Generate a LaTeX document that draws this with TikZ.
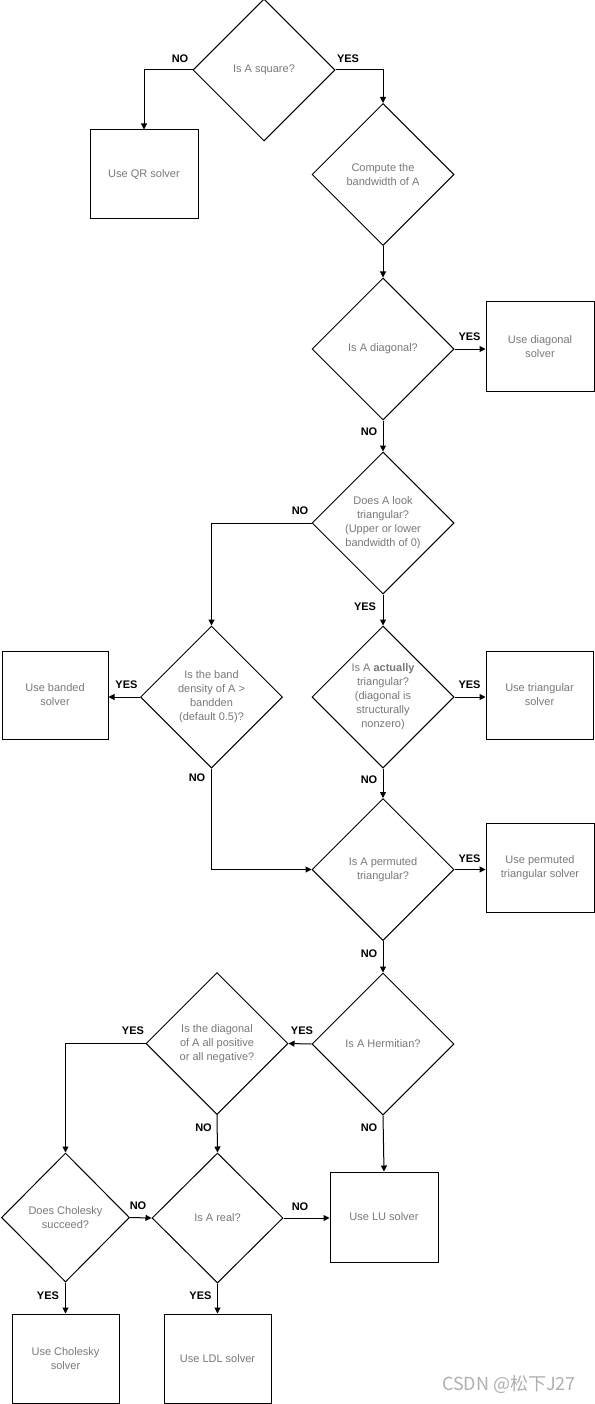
\documentclass[tikz,border=0pt]{standalone}
\usepackage{fontspec}
\setmainfont{Liberation Sans}
\newfontfamily\cjk{Noto Sans CJK SC}
\usetikzlibrary{shapes.geometric,arrows.meta}
\definecolor{txtgray}{RGB}{120,120,120}
\definecolor{wmgray}{RGB}{175,175,175}
\begin{document}
\begin{tikzpicture}[x=1pt,y=-1pt,
  dec/.style={diamond, draw, line width=1pt, minimum width=142pt, minimum height=142pt, inner sep=0pt, aspect=1, align=center, font=\fontsize{11}{14}\selectfont, text=txtgray},
  sbox/.style={rectangle, draw, line width=1pt, minimum width=108pt, minimum height=89pt, inner sep=0pt, align=center, font=\fontsize{11}{14}\selectfont, text=txtgray},
  lbl/.style={font=\fontsize{11}{13}\selectfont\bfseries, inner sep=0pt},
  arr/.style={draw, line width=1pt, -{Triangle[length=6pt,width=6pt]}},
  ln/.style={draw, line width=1pt}]
\useasboundingbox (0,0) rectangle (594,1404);
% decisions
\node[dec] (d1) at (264,70) {Is A square?};
\node[dec] (d2) at (383,174.5) {Compute the\\bandwidth of A};
\node[dec] (d3) at (383,349) {Is A diagonal?};
\node[dec] (d4) at (383,523) {Does A look\\triangular?\\(Upper or lower\\bandwidth of 0)};
\node[dec] (d5) at (211.5,697) {Is the band\\density of A >\\bandden\\(default 0.5)?};
\node[dec] (d6) at (383,697) {Is A \textbf{actually}\\triangular?\\(diagonal is\\structurally\\nonzero)};
\node[dec] (d7) at (383,869.5) {Is A permuted\\triangular?};
\node[dec] (d8) at (383,1044) {Is A Hermitian?};
\node[dec] (d9) at (217,1043.5) {Is the diagonal\\of A all positive\\or all negative?};
\node[dec, minimum width=128pt, minimum height=129pt] (d10) at (65.5,1217.5) {Does Cholesky\\succeed?};
\node[dec, minimum width=131pt, minimum height=130pt] (d11) at (217.5,1218) {Is A real?};
% boxes
\node[sbox] (qr) at (144,174.5) {Use QR solver};
\node[sbox] (diag) at (540,346.5) {Use diagonal\\solver};
\node[sbox, minimum width=106pt, minimum height=88pt] (band) at (55,695) {Use banded\\solver};
\node[sbox, minimum width=107pt, minimum height=88pt] (tri) at (539.5,695) {Use triangular\\solver};
\node[sbox] (perm) at (540,867.5) {Use permuted\\triangular solver};
\node[sbox, minimum height=90pt] (lu) at (384,1217) {Use LU solver};
\node[sbox, minimum width=107pt] (chol) at (65.5,1358.5) {Use Cholesky\\solver};
\node[sbox, minimum width=107pt] (ldl) at (217.5,1358.5) {Use LDL solver};
% connectors
\draw[arr] (d1.west) -| (qr.north);
\draw[arr] (d1.east) -| (d2.north);
\draw[arr] (d2.south) -- (d3.north);
\draw[arr] (d3.east) -- (d3.east -| diag.west);
\draw[arr] (d3.south) -- (d4.north);
\draw[arr] (d4.west) -| (d5.north);
\draw[arr] (d4.south) -- (d6.north);
\draw[arr] (d5.west) -- (d5.west -| band.east);
\draw[arr] (d6.east) -- (d6.east -| tri.west);
\draw[arr] (d5.south) |- (d7.west);
\draw[arr] (d6.south) -- (d7.north);
\draw[arr] (d7.east) -- (d7.east -| perm.west);
\draw[arr] (d7.south) -- (d8.north);
\draw[arr] (d8.west) -- (d9.east);
\draw[arr] (d9.west) -| (d10.north);
\draw[arr] (d9.south) -- (d11.north);
\draw[arr] (d8.south) -- (lu.north);
\draw[arr] (d10.east) -- (d11.west);
\draw[arr] (d11.east) -- (d11.east -| lu.west);
\draw[arr] (d10.south) -- (chol.north);
\draw[arr] (d11.south) -- (ldl.north);
% labels
\node[lbl] (l1) at (180,59) {NO};
\node[lbl] (l2) at (348,59) {YES};
\node[lbl] (l3) at (469.5,337) {YES};
\node[lbl] (l4) at (369,432) {NO};
\node[lbl] (l5) at (300,511) {NO};
\node[lbl] (l6) at (365,607) {YES};
\node[lbl] (l7) at (126.5,685) {YES};
\node[lbl] (l8) at (197,778) {NO};
\node[lbl] (l9) at (469.5,685) {YES};
\node[lbl] (l10) at (369,780) {NO};
\node[lbl] (l11) at (469.5,859) {YES};
\node[lbl] (l12) at (369,954) {NO};
\node[lbl] (l13) at (302,1031) {YES};
\node[lbl] (l14) at (133,1031) {YES};
\node[lbl] (l15) at (203.5,1128) {NO};
\node[lbl] (l16) at (369,1128) {NO};
\node[lbl] (l17) at (138,1206) {NO};
\node[lbl] (l18) at (300,1207) {NO};
\node[lbl] (l19) at (48,1296) {YES};
\node[lbl] (l20) at (200.5,1296) {YES};
% watermark
\node[font=\cjk\fontsize{18}{20}\selectfont, text=wmgray, inner sep=0pt] (wm) at (509,1384) {CSDN @松下J27};
\end{tikzpicture}
\end{document}
